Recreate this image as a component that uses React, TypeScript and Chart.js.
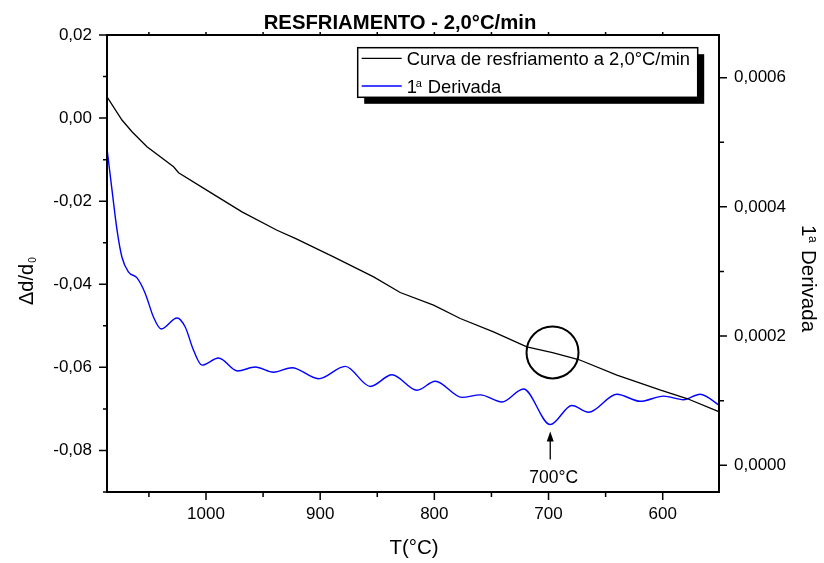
import React, { useEffect, useRef } from 'react';
import { Chart, registerables } from 'chart.js';

Chart.register(...registerables);

const FONT = '"Liberation Sans", Arial, Helvetica, sans-serif';

const chartTitle = 'RESFRIAMENTO - 2,0°C/min';
const coolingLabel = 'Curva de resfriamento a 2,0°C/min';
const derivLabelMain = '1';
const derivLabelSup = 'a';
const derivLabelRest = 'Derivada';
const leftTitleMain = 'Δd/d';
const leftTitleSub = '0';
const xTitle = 'T(°C)';
const annotationLabel = '700°C';

// Cooling curve (left axis, Δd/d0) vs temperature
const coolingTemp = [1086.7, 1073.6, 1064.8, 1051.7, 1028.4, 1024, 994.8, 968.5, 937.8, 921.8, 888.3, 853.2, 829.9, 800.7, 777.3, 748.2, 719, 696.5, 673.7, 640.1, 601.8, 578.8, 550.2];
const coolingDelta = [0.00514, -0.00047, -0.00329, -0.0069, -0.01172, -0.01316, -0.01813, -0.02256, -0.027, -0.02897, -0.0334, -0.03822, -0.04198, -0.04503, -0.04824, -0.05146, -0.05507, -0.05643, -0.05811, -0.06189, -0.0655, -0.0675, -0.07073];

// First derivative (right axis) vs temperature
const derivTemp = [1086.7, 1082.3, 1077.9, 1073.6, 1067.8, 1060.4, 1053.2, 1045.9, 1039.2, 1025.4, 1018.2, 1010.9, 1003.5, 989, 972.3, 956.8, 940.8, 924.7, 901.4, 878.0, 856.1, 837.1, 815.2, 799.2, 775.8, 759.8, 740.8, 721.9, 698.5, 679.5, 665, 640.1, 619.7, 599.3, 581.8, 567.2, 550.2];
const derivValue = [0.00049, 0.000426, 0.000364, 0.000322, 0.000299, 0.00029, 0.000266, 0.000229, 0.000211, 0.000228, 0.000214, 0.000178, 0.000155, 0.000166, 0.000146, 0.000152, 0.000144, 0.000151, 0.000134, 0.000153, 0.000122, 0.00014, 0.000116, 0.00013, 0.000105, 0.000109, 0.000098, 0.000118, 0.000063, 0.0000925, 0.000082, 0.00011, 0.000099, 0.000107, 0.0001014, 0.00011, 0.0000925];

const xTicks = [1000, 900, 800, 700, 600];
const xMinorTicks = [1050, 950, 850, 750, 650];
const leftTicks = [-0.08, -0.06, -0.04, -0.02, 0, 0.02];
const leftMinorTicks = [-0.09, -0.07, -0.05, -0.03, -0.01, 0.01];
const rightTicks = [0, 0.0002, 0.0004, 0.0006];
const rightMinorTicks = [0.0001, 0.0003, 0.0005];

const xRange = [550.7, 1086.7];
const leftRange = [-0.09, 0.02];
const rightRange = [-0.0000414, 0.000666];

// annotation anchors (data coordinates)
const circleTemp = 696.5;
const circleDelta = -0.0564;
const arrowTemp = 698.5;
const arrowDeriv = 0.000063;

const decoPlugin = {
  id: 'deco',
  beforeDraw(chart: any) {
    const ctx = chart.ctx;
    ctx.save();
    ctx.fillStyle = '#fff';
    ctx.fillRect(0, 0, chart.width, chart.height);
    ctx.restore();
  },
  afterDraw(chart: any) {
    const ctx: CanvasRenderingContext2D = chart.ctx;
    const { left, right, top, bottom } = chart.chartArea;
    const xs = chart.scales.x;
    const yl = chart.scales.y;
    const yr = chart.scales.y1;
    ctx.save();
    ctx.strokeStyle = '#000';
    ctx.fillStyle = '#000';

    // frame
    ctx.lineWidth = 2;
    ctx.strokeRect(left, top, right - left, bottom - top);

    // ticks
    ctx.lineWidth = 1.5;
    ctx.beginPath();
    const allX = [...xTicks, ...xMinorTicks];
    allX.forEach((v) => {
      const px = xs.getPixelForValue(v);
      const len = xTicks.includes(v) ? 8 : 5;
      ctx.moveTo(px, bottom);
      ctx.lineTo(px, bottom + len);
      ctx.moveTo(px, top);
      ctx.lineTo(px, top - 3);
    });
    leftTicks.forEach((v) => {
      const py = yl.getPixelForValue(v);
      ctx.moveTo(left, py);
      ctx.lineTo(left - 8, py);
    });
    leftMinorTicks.forEach((v) => {
      const py = yl.getPixelForValue(v);
      ctx.moveTo(left, py);
      ctx.lineTo(left - 4, py);
    });
    rightTicks.forEach((v) => {
      const py = yr.getPixelForValue(v);
      ctx.moveTo(right, py);
      ctx.lineTo(right + 8, py);
    });
    rightMinorTicks.forEach((v) => {
      const py = yr.getPixelForValue(v);
      ctx.moveTo(right, py);
      ctx.lineTo(right + 5, py);
    });
    ctx.stroke();

    // circle annotation
    const cx = xs.getPixelForValue(circleTemp);
    const cy = yl.getPixelForValue(circleDelta);
    ctx.lineWidth = 2;
    ctx.beginPath();
    ctx.arc(cx, cy, 26, 0, Math.PI * 2);
    ctx.stroke();

    // arrow annotation
    const ax = xs.getPixelForValue(arrowTemp);
    const tipY = yr.getPixelForValue(arrowDeriv) + 7;
    const baseY = tipY + 28;
    ctx.lineWidth = 1.3;
    ctx.beginPath();
    ctx.moveTo(ax, baseY);
    ctx.lineTo(ax, tipY + 8);
    ctx.stroke();
    ctx.beginPath();
    ctx.moveTo(ax, tipY);
    ctx.lineTo(ax - 3.5, tipY + 10);
    ctx.lineTo(ax + 3.5, tipY + 10);
    ctx.closePath();
    ctx.fill();
    ctx.font = `17.5px ${FONT}`;
    ctx.textAlign = 'center';
    ctx.textBaseline = 'alphabetic';
    ctx.fillText(annotationLabel, ax + 3.5, baseY + 23.5);

    // legend with shadow
    const lx = 357.7, ly = 47.7, lw = 340, lh = 49.6;
    ctx.fillRect(lx + 6.5, ly + 6.5, lw, lh);
    ctx.fillStyle = '#fff';
    ctx.fillRect(lx, ly, lw, lh);
    ctx.fillStyle = '#000';
    ctx.lineWidth = 1.5;
    ctx.strokeRect(lx, ly, lw, lh);
    const ds = chart.data.datasets;
    const rows = [58.3, 86];
    ctx.lineWidth = 1.3;
    ctx.strokeStyle = ds[0].borderColor;
    ctx.beginPath();
    ctx.moveTo(lx + 4, rows[0]);
    ctx.lineTo(lx + 44, rows[0]);
    ctx.stroke();
    ctx.strokeStyle = ds[1].borderColor;
    ctx.beginPath();
    ctx.moveTo(lx + 4, rows[1]);
    ctx.lineTo(lx + 44, rows[1]);
    ctx.stroke();
    ctx.strokeStyle = '#000';
    ctx.textAlign = 'left';
    ctx.textBaseline = 'alphabetic';
    ctx.font = `18.4px ${FONT}`;
    ctx.fillText(coolingLabel, lx + 49, rows[0] + 6.5);
    ctx.fillText(derivLabelMain, lx + 49, rows[1] + 6.5);
    ctx.font = `11px ${FONT}`;
    ctx.fillText(derivLabelSup, lx + 58, rows[1] + 0.5);
    ctx.font = `18.4px ${FONT}`;
    ctx.fillText(derivLabelRest, lx + 70, rows[1] + 6.5);

    // chart title
    ctx.font = `bold 20.3px ${FONT}`;
    ctx.textAlign = 'center';
    ctx.fillText(chartTitle, 400, 29);

    // x title
    ctx.font = `20.5px ${FONT}`;
    ctx.fillText(xTitle, (left + right) / 2 + 1, 553.5);

    // left title rotated
    ctx.save();
    ctx.translate(33, 305);
    ctx.rotate(-Math.PI / 2);
    ctx.textAlign = 'left';
    ctx.font = `20px ${FONT}`;
    ctx.fillText(leftTitleMain, 0, 0);
    const w = ctx.measureText(leftTitleMain).width;
    ctx.font = `10px ${FONT}`;
    ctx.fillText(leftTitleSub, w + 1, 3);
    ctx.restore();

    // right title rotated
    ctx.save();
    ctx.translate(802, 225);
    ctx.rotate(Math.PI / 2);
    ctx.textAlign = 'left';
    ctx.font = `20.5px ${FONT}`;
    ctx.fillText(derivLabelMain, 0, 0);
    ctx.font = `12px ${FONT}`;
    ctx.fillText(derivLabelSup, 11, -7);
    ctx.font = `20.5px ${FONT}`;
    ctx.fillText(derivLabelRest, 25, 0);
    ctx.restore();

    ctx.restore();
  },
};

export default function App() {
  const ref = useRef<HTMLCanvasElement | null>(null);
  useEffect(() => {
    const canvas = ref.current;
    if (!canvas) return;
    const tickFont = { family: FONT, size: 17 };
    const chart = new Chart(canvas, {
      type: 'line',
      data: {
        datasets: [
          {
            label: coolingLabel,
            data: coolingTemp.map((t, i) => ({ x: t, y: coolingDelta[i] })),
            borderColor: '#000000',
            borderWidth: 1.3,
            pointRadius: 0,
            tension: 0,
            yAxisID: 'y',
          },
          {
            label: derivLabelMain + 'ª ' + derivLabelRest,
            data: derivTemp.map((t, i) => ({ x: t, y: derivValue[i] })),
            borderColor: '#0000ff',
            borderWidth: 1.4,
            pointRadius: 0,
            cubicInterpolationMode: 'monotone',
            yAxisID: 'y1',
          },
        ],
      },
      options: {
        responsive: false,
        animation: false,
        events: [],
        layout: { padding: { top: 35, left: 0, right: 0, bottom: 0 } },
        plugins: {
          legend: { display: false },
          title: { display: false },
          tooltip: { enabled: false },
        },
        scales: {
          x: {
            type: 'linear',
            reverse: true,
            min: xRange[0],
            max: xRange[1],
            grid: { display: false, drawTicks: true, tickLength: 8 },
            border: { display: false },
            ticks: { color: '#000', font: tickFont, padding: 4, maxRotation: 0, callback: (v: any) => String(v) },
            afterBuildTicks: (s: any) => {
              s.ticks = xTicks.map((v) => ({ value: v }));
            },
            afterFit: (s: any) => {
              s.height = 71;
            },
          },
          y: {
            type: 'linear',
            position: 'left',
            min: leftRange[0],
            max: leftRange[1],
            grid: { display: false, drawTicks: true, tickLength: 8 },
            border: { display: false },
            ticks: {
              color: '#000',
              font: tickFont,
              padding: 7,
              callback: (v: any) => (Math.abs(v) < 1e-9 ? 0 : v).toFixed(2).replace('.', ','),
            },
            afterBuildTicks: (s: any) => {
              s.ticks = leftTicks.map((v) => ({ value: v }));
            },
            afterFit: (s: any) => {
              s.width = 107;
            },
          },
          y1: {
            type: 'linear',
            position: 'right',
            min: rightRange[0],
            max: rightRange[1],
            grid: { display: false, drawTicks: true, tickLength: 8 },
            border: { display: false },
            ticks: {
              color: '#000',
              font: tickFont,
              padding: 7,
              callback: (v: any) => (Math.abs(v) < 1e-12 ? 0 : v).toFixed(4).replace('.', ','),
            },
            afterBuildTicks: (s: any) => {
              s.ticks = rightTicks.map((v) => ({ value: v }));
            },
            afterFit: (s: any) => {
              s.width = 105;
            },
          },
        },
      },
      plugins: [decoPlugin],
    } as any);
    return () => chart.destroy();
  }, []);
  return (
    <div style={{ position: 'absolute', left: 0, top: 0, width: 824, height: 563 }}>
      <canvas ref={ref} width={824} height={563} style={{ display: 'block' }} />
    </div>
  );
}
